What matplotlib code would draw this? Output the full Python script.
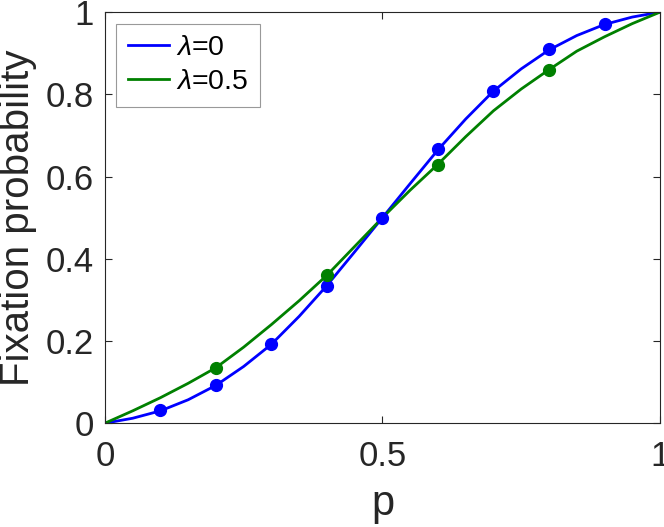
import matplotlib
matplotlib.use('Agg')
import matplotlib.pyplot as plt

plt.rcParams['font.family'] = ['Liberation Sans', 'DejaVu Sans']
plt.rcParams['mathtext.fontset'] = 'custom'
plt.rcParams['mathtext.it'] = 'Liberation Sans:italic'

# curves every 0.05
p_curve = [0, 0.05, 0.1, 0.15, 0.2, 0.25, 0.3, 0.35, 0.4, 0.45, 0.5,
           0.55, 0.6, 0.65, 0.7, 0.75, 0.8, 0.85, 0.9, 0.95, 1]
blue_curve = [0, 0.012, 0.030, 0.057, 0.092, 0.138, 0.192, 0.260, 0.335, 0.417, 0.5,
              0.583, 0.665, 0.740, 0.808, 0.862, 0.908, 0.943, 0.970, 0.988, 1]
green_curve = [0, 0.030, 0.062, 0.097, 0.135, 0.185, 0.240, 0.298, 0.360, 0.430, 0.5,
               0.567, 0.630, 0.697, 0.760, 0.813, 0.860, 0.905, 0.940, 0.972, 1]

# simulated points
p_blue = [0.1, 0.2, 0.3, 0.4, 0.5, 0.6, 0.7, 0.8, 0.9]
y_blue = [0.032, 0.092, 0.192, 0.334, 0.5, 0.666, 0.808, 0.91, 0.971]
p_green = [0.2, 0.4, 0.6, 0.8]
y_green = [0.135, 0.36, 0.629, 0.86]

blue = (0, 0, 1)
green = (0, 0.5, 0)
dark = '#262626'

fig = plt.figure(figsize=(6.64, 5.27), dpi=100)
ax = fig.add_axes([0.158, 0.197, 0.836, 0.780])

ax.plot(p_curve, blue_curve, color=blue, lw=2, label=r'$\lambda$=0')
ax.plot(p_curve, green_curve, color=green, lw=2, label=r'$\lambda$=0.5')
ax.plot(p_blue, y_blue, 'o', color=blue, ms=8.5)
ax.plot(p_green, y_green, 'o', color=green, ms=8.5)

ax.set_xlim(0, 1)
ax.set_ylim(0, 1)
ax.set_xticks([0, 0.5, 1])
ax.set_xticklabels(['0', '0.5', '1'])
ax.set_yticks([0, 0.2, 0.4, 0.6, 0.8, 1])
ax.set_yticklabels(['0', '0.2', '0.4', '0.6', '0.8', '1'])
ax.tick_params(direction='in', length=5, labelsize=25, colors=dark,
               labelcolor=dark, top=True, right=True)
ax.tick_params(axis='y', pad=8)
ax.tick_params(axis='x', pad=12)
for s in ax.spines.values():
    s.set_color(dark)
    s.set_linewidth(0.8)
ax.set_xlabel('p', fontsize=30, color=dark, labelpad=8)
ax.set_ylabel('Fixation probability', fontsize=29, color=dark, labelpad=6)

leg = ax.legend(loc='upper left', fontsize=20.5, fancybox=False, framealpha=1,
                edgecolor='#999999', handlelength=1.45, borderaxespad=0.4,
                labelspacing=0.3, handletextpad=0.25, borderpad=0.4)
leg.get_frame().set_linewidth(0.8)

fig.savefig('out.png', dpi=100)
